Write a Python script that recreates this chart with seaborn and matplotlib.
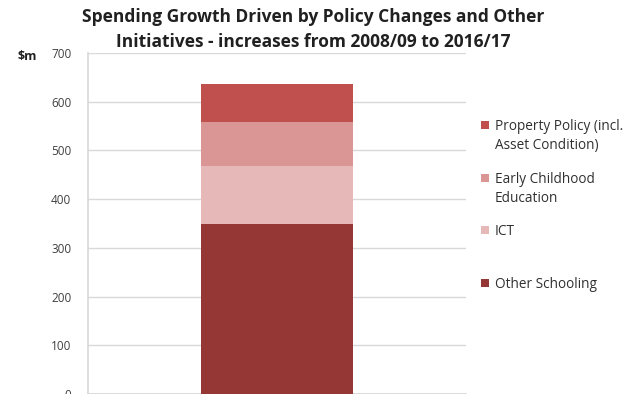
import matplotlib
matplotlib.use("Agg")
import matplotlib.pyplot as plt
import matplotlib.patches as mpatches
import seaborn as sns
import pandas as pd
import numpy as np

categories = ["Other Schooling", "ICT", "Early Childhood Education", "Property Policy (incl. Asset Condition)"]
values = [348, 120, 90, 78]
colors = ["#953735", "#E6B9B8", "#D99694", "#C0504D"]
legend_labels = ["Other Schooling", "ICT", "Early Childhood\nEducation", "Property Policy (incl.\nAsset Condition)"]
yticks = [0, 100, 200, 300, 400, 500, 600, 700]

sns.set_theme(style="white")
plt.rcParams['font.family'] = ['Open Sans', 'DejaVu Sans']

fig = plt.figure(figsize=(6.26, 3.94), dpi=100)
ax = fig.add_axes([88/626, 0.0, (466-88)/626, 1 - 53/394])

cum = np.cumsum(values)
# draw from the top of the stack downwards so lower segments overlay
for i in range(len(values) - 1, -1, -1):
    df = pd.DataFrame({"x": ["all"], "y": [cum[i]]})
    sns.barplot(data=df, x="x", y="y", color=colors[i], saturation=1, width=0.4,
                ax=ax, linewidth=0, zorder=3)

ax.set_ylim(0, 700)
ax.set_xlim(-0.5, 0.5)
ax.set_yticks(yticks)
ax.set_yticklabels([str(t) for t in yticks], fontsize=8.5, color="#404040")
ax.set_xticks([])
ax.set_xlabel("")
ax.set_ylabel("")
ax.yaxis.grid(True, color="#D9D9D9", linewidth=1, zorder=0)
ax.set_axisbelow(True)
for s in ["top", "right"]:
    ax.spines[s].set_visible(False)
ax.spines["left"].set_color("#D9D9D9")
ax.spines["bottom"].set_color("#D9D9D9")
ax.tick_params(axis="y", length=4, color="#D9D9D9", pad=8)

fig.text(18/626, 1 - 60/394, "$m", fontsize=9, fontweight="bold", color="#202020")
fig.text(0.5, 1 - 17/394, "Spending Growth Driven by Policy Changes and Other",
         ha="center", va="center", fontsize=12.5, fontweight="bold", color="#202020")
fig.text(0.5, 1 - 42/394, "Initiatives - increases from 2008/09 to 2016/17",
         ha="center", va="center", fontsize=12.5, fontweight="bold", color="#202020")

# legend (top entry first)
leg_y = [125, 178, 230, 283]
order = [3, 2, 1, 0]
for yy, idx in zip(leg_y, order):
    fig.patches.append(mpatches.Rectangle((481/626, 1 - (yy + 4)/394), 8/626, 8/394,
                                          transform=fig.transFigure, facecolor=colors[idx],
                                          edgecolor="none"))
    fig.text(495/626, 1 - (yy - 6)/394, legend_labels[idx], fontsize=9.8, va="top",
             ha="left", color="#303030", linespacing=1.35)

fig.savefig("out.png", dpi=100)
